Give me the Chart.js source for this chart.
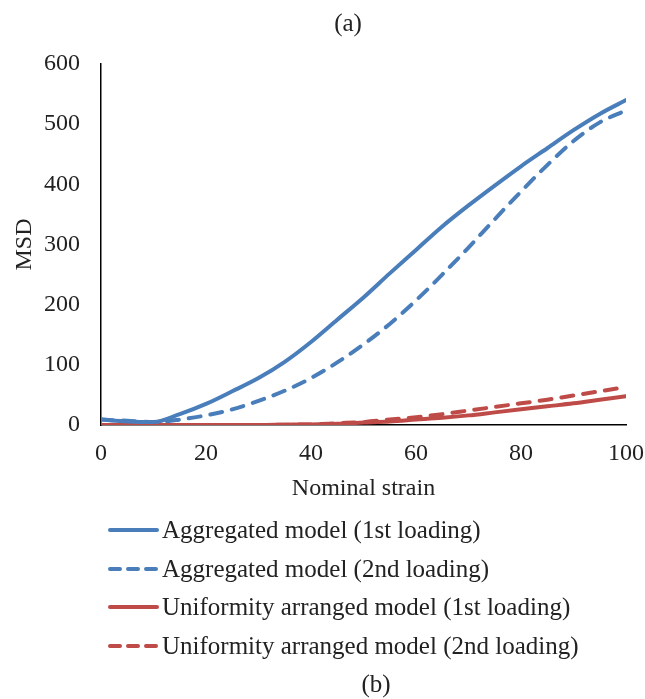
<!DOCTYPE html>
<html>
<head>
<meta charset="utf-8">
<script src="https://cdn.jsdelivr.net/npm/chart.js@4/dist/chart.umd.min.js"></script>
<style>
  html, body { margin: 0; padding: 0; background: #fff; }
  #wrap { width: 645px; height: 699px; position: relative; }
</style>
</head>
<body>
<div id="wrap"><canvas id="msdChart"></canvas></div>
<script>
// --- Data ---
const strain = [0, 5, 10, 15, 20, 25, 30, 35, 40, 45, 50, 55, 60, 65, 70, 75, 80, 85, 90, 95, 100];
const aggregated1st = [9, 6, 5, 18, 35, 56, 78, 105, 138, 175, 212, 252, 291, 330, 365, 398, 430, 460, 490, 517, 540];
const aggregated2nd = [9, 7, 5, 9, 16, 26, 40, 57, 78, 104, 134, 168, 207, 250, 295, 342, 388, 432, 472, 503, 523];
const uniform1st = [0, 0, 0, 0, 0, 0, 0, 0.5, 1, 2, 4, 6, 9, 12, 16, 21, 26, 31, 36, 42, 48];
const uniform2nd = [0, 0, 0, 0, 0, 0, 0, 0.5, 1, 3, 5, 9, 13, 18, 24, 30, 36, 42, 49, 56, 63];
const seriesNames = [
    'Aggregated model (1st loading)',
    'Aggregated model (2nd loading)',
    'Uniformity arranged model (1st loading)',
    'Uniformity arranged model (2nd loading)'
];
const yTicks = [0, 100, 200, 300, 400, 500, 600];
const xTicks = [0, 20, 40, 60, 80, 100];

const BLUE = '#4a7ebb';
const RED = '#be4b48';
const DASH = [12, 10];
const SERIF = "'Liberation Serif', 'Times New Roman', serif";

function toPoints(values) {
    return strain.map((x, i) => ({ x: x, y: values[i] }));
}

function makeSet(label, values, color, dashed) {
    return {
        label: label,
        data: toPoints(values),
        borderColor: color,
        backgroundColor: color,
        borderWidth: 4,
        borderDash: dashed ? DASH : [],
        borderCapStyle: 'round',
        pointRadius: 0,
        cubicInterpolationMode: 'monotone',
        fill: false
    };
}

// draws "(a)", the stacked legend and "(b)"
const captionPlugin = {
    id: 'captions',
    afterDraw(chart) {
        const ctx = chart.ctx;
        ctx.save();
        ctx.fillStyle = '#222';
        ctx.textBaseline = 'middle';
        ctx.textAlign = 'center';
        ctx.font = `25px ${SERIF}`;
        ctx.fillText('(a)', 348, 24);

        const rowY = [530, 569, 607, 646];
        chart.data.datasets.forEach((ds, i) => {
            const y = rowY[i];
            ctx.beginPath();
            ctx.strokeStyle = ds.borderColor;
            ctx.lineWidth = 4;
            ctx.lineCap = 'round';
            ctx.setLineDash(ds.borderDash.length ? [10, 8] : []);
            ctx.moveTo(110, y);
            ctx.lineTo(157, y);
            ctx.stroke();
            ctx.setLineDash([]);
            ctx.textAlign = 'left';
            ctx.fillStyle = '#222';
            ctx.font = `25px ${SERIF}`;
            ctx.fillText(ds.label, 162, y + 1);
        });

        ctx.textAlign = 'center';
        ctx.fillText('(b)', 376, 685);
        ctx.restore();
    }
};

const ctx = document.getElementById('msdChart').getContext('2d');
const msdChart = new Chart(ctx, {
    type: 'line',
    data: {
        datasets: [
            makeSet(seriesNames[0], aggregated1st, BLUE, false),
            makeSet(seriesNames[1], aggregated2nd, BLUE, true),
            makeSet(seriesNames[2], uniform1st, RED, false),
            makeSet(seriesNames[3], uniform2nd, RED, true)
        ]
    },
    options: {
        responsive: true,
        maintainAspectRatio: false,
        animation: false,
        layout: { padding: { top: 64, right: 19, bottom: 194, left: 0 } },
        plugins: {
            legend: { display: false },
            title: { display: false },
            tooltip: { enabled: false }
        },
        scales: {
            x: {
                type: 'linear',
                min: 0,
                max: 100,
                afterBuildTicks: axis => { axis.ticks = xTicks.map(v => ({ value: v })); },
                afterFit: axis => {
                    axis.height = 80;
                    axis.paddingLeft = 0;
                    axis.paddingRight = 0;
                },
                grid: { display: false, drawTicks: false },
                border: { display: true, color: '#000', width: 1.5 },
                ticks: { color: '#222', padding: 14, font: { family: SERIF, size: 24 } },
                title: {
                    display: true,
                    text: 'Nominal strain',
                    color: '#222',
                    padding: { top: 0, bottom: 2 },
                    font: { family: SERIF, size: 24 }
                }
            },
            y: {
                min: 0,
                max: 600,
                afterBuildTicks: axis => { axis.ticks = yTicks.map(v => ({ value: v })); },
                afterFit: axis => { axis.width = 101; },
                grid: { display: false, drawTicks: false },
                border: { display: true, color: '#000', width: 1.5 },
                ticks: { color: '#222', padding: 21, font: { family: SERIF, size: 24 } },
                title: {
                    display: true,
                    text: 'MSD',
                    color: '#222',
                    padding: { top: 10, bottom: 0 },
                    font: { family: SERIF, size: 24 }
                }
            }
        }
    },
    plugins: [captionPlugin]
});
</script>
</body>
</html>
